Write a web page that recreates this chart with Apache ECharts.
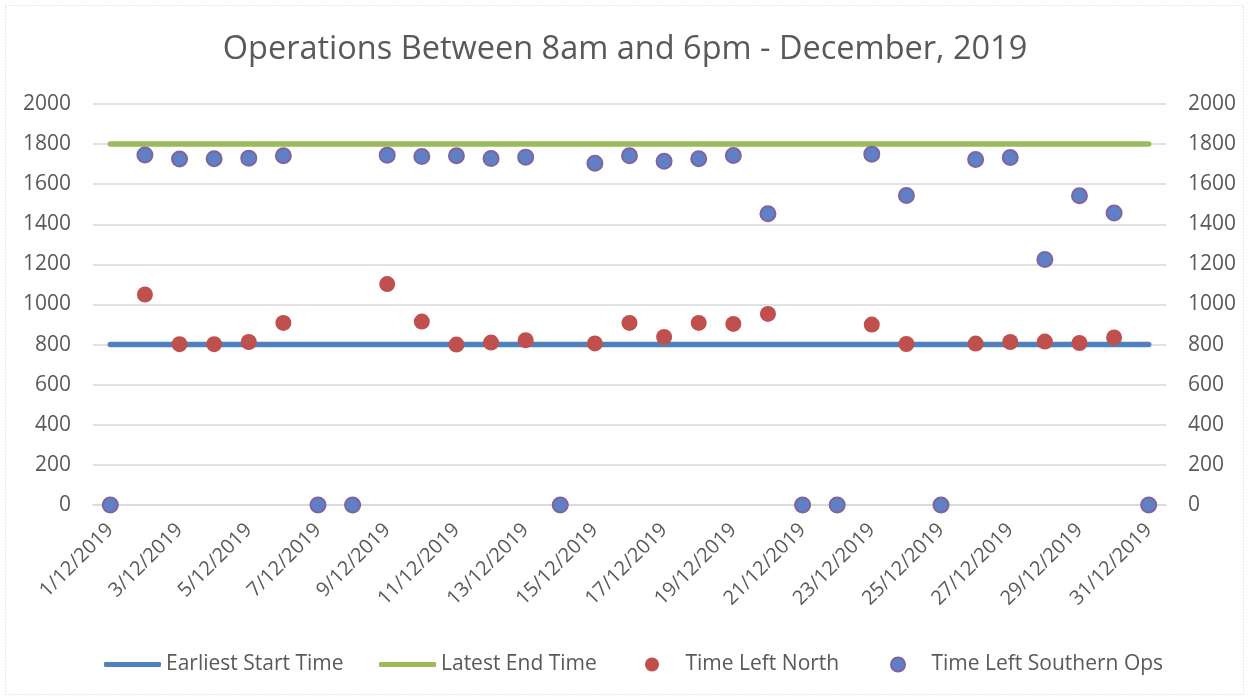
<!DOCTYPE html>
<html>
<head>
<meta charset="utf-8">
<script src="https://cdn.jsdelivr.net/npm/echarts@6/dist/echarts.min.js"></script>
<style>
html,body{margin:0;padding:0;background:#fff;}
#c{width:1250px;height:700px;}
</style>
</head>
<body>
<div id="c"></div>
<script>
const dates = ['1/12/2019','2/12/2019','3/12/2019','4/12/2019','5/12/2019','6/12/2019','7/12/2019','8/12/2019','9/12/2019','10/12/2019','11/12/2019','12/12/2019','13/12/2019','14/12/2019','15/12/2019','16/12/2019','17/12/2019','18/12/2019','19/12/2019','20/12/2019','21/12/2019','22/12/2019','23/12/2019','24/12/2019','25/12/2019','26/12/2019','27/12/2019','28/12/2019','29/12/2019','30/12/2019','31/12/2019'];
const earliestStart = [800,800,800,800,800,800,800,800,800,800,800,800,800,800,800,800,800,800,800,800,800,800,800,800,800,800,800,800,800,800,800];
const latestEnd = [1800,1800,1800,1800,1800,1800,1800,1800,1800,1800,1800,1800,1800,1800,1800,1800,1800,1800,1800,1800,1800,1800,1800,1800,1800,1800,1800,1800,1800,1800,1800];
const timeLeftNorth = [0,1050,802,802,813,908,0,0,1102,915,800,810,822,0,806,908,838,908,903,953,0,0,900,803,0,805,813,815,808,836,0];
const timeLeftSouthern = [0,1746,1726,1727,1730,1742,0,0,1745,1738,1742,1728,1735,0,1705,1742,1715,1727,1743,1453,0,0,1750,1544,0,1723,1733,1225,1542,1456,0];
const yTicks = {min:0, max:2000, interval:200};

const FONT = 'Open Sans';
const TXT = '#595959';
const chart = echarts.init(document.getElementById('c'));
const legendText = {fontFamily: FONT, fontSize: 21, color: TXT};
chart.setOption({
  animation: false,
  backgroundColor: '#fff',
  title: {
    text: 'Operations Between 8am and 6pm - December, 2019',
    left: 'center', top: 28,
    textStyle: {fontFamily: FONT, fontSize: 32.5, fontWeight: 'normal', color: TXT}
  },
  graphic: [{
    type: 'rect', shape: {x: 5.5, y: 5.5, width: 1238, height: 689},
    style: {fill: 'none', stroke: '#D0D0D0', lineWidth: 1, lineDash: [1, 2]}, silent: true
  }],
  legend: [
    {top: 649, left: 99, itemWidth: 57, itemHeight: 5, itemGap: 0, textStyle: legendText,
     data: [{name: 'Earliest Start Time', icon: 'roundRect'}]},
    {top: 649, left: 374, itemWidth: 57, itemHeight: 5, itemGap: 0, textStyle: legendText,
     data: [{name: 'Latest End Time', icon: 'roundRect'}]},
    {top: 649, left: 640, itemWidth: 57, itemHeight: 14, itemGap: 0, textStyle: legendText,
     data: [{name: 'Time Left North', icon: 'circle'}]},
    {top: 649, left: 885, itemWidth: 57, itemHeight: 14, itemGap: 0, textStyle: legendText,
     data: [{name: 'Time Left Southern Ops', icon: 'circle'}]}
  ],
  grid: {left: 93, right: 84, top: 104, bottom: 195, containLabel: false},
  xAxis: {
    type: 'category', data: dates, boundaryGap: true,
    axisLine: {lineStyle: {color: '#D9D9D9', width: 1.5}},
    axisTick: {interval: 1, length: 6, lineStyle: {color: '#D9D9D9', width: 1.5}},
    axisLabel: {interval: 1, rotate: 45, margin: 22, fontFamily: FONT, fontSize: 20, color: TXT},
    splitLine: {show: false}
  },
  yAxis: [
    {type: 'value', min: yTicks.min, max: yTicks.max, interval: yTicks.interval, position: 'left',
     axisLine: {show: false}, axisTick: {show: false},
     axisLabel: {margin: 22, fontFamily: FONT, fontSize: 21, color: TXT, formatter: v => String(v)},
     splitLine: {lineStyle: {color: '#D9D9D9', width: 1.5}}},
    {type: 'value', min: yTicks.min, max: yTicks.max, interval: yTicks.interval, position: 'right',
     axisLine: {show: false}, axisTick: {show: false},
     axisLabel: {margin: 22, fontFamily: FONT, fontSize: 21, color: TXT, formatter: v => String(v)},
     splitLine: {show: false}}
  ],
  series: [
    {name: 'Earliest Start Time', type: 'line', data: earliestStart, symbol: 'none', z: 2,
     lineStyle: {color: '#4F81BD', width: 5.5, cap: 'round'}, itemStyle: {color: '#4F81BD'}},
    {name: 'Latest End Time', type: 'line', data: latestEnd, symbol: 'none', z: 2,
     lineStyle: {color: '#9BBB59', width: 5.5, cap: 'round'}, itemStyle: {color: '#9BBB59'}},
    {name: 'Time Left North', type: 'scatter', data: timeLeftNorth, symbol: 'circle', symbolSize: 16, z: 3,
     itemStyle: {color: '#C0504D', opacity: 1}},
    {name: 'Time Left Southern Ops', type: 'scatter', data: timeLeftSouthern, symbol: 'circle', symbolSize: 15, z: 4,
     itemStyle: {color: '#5F80C4', borderColor: '#8064A2', borderWidth: 2, opacity: 1}}
  ]
});
</script>
</body>
</html>
